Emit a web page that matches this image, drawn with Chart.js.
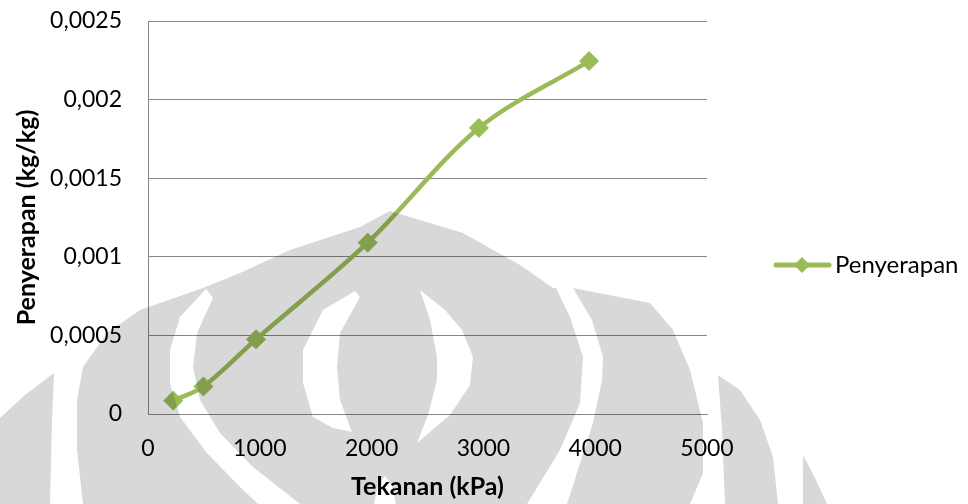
<!DOCTYPE html>
<html>
<head>
<meta charset="utf-8">
<script src="https://cdn.jsdelivr.net/npm/chart.js@4.4.1/dist/chart.umd.min.js"></script>
<style>
  html, body { margin: 0; padding: 0; background: #ffffff; }
  #wrap { width: 968px; height: 504px; position: relative; }
</style>
</head>
<body>
<div id="wrap"><canvas id="c" width="968" height="504"></canvas></div>
<script>
// Measured absorption versus pressure
const pressure = [226, 496, 966, 1965, 2960, 3945];
const absorption = [0.000085, 0.000175, 0.000475, 0.00109, 0.00182, 0.002245];

const xTicks = [0, 1000, 2000, 3000, 4000, 5000];
const xTickLabels = ['0', '1000', '2000', '3000', '4000', '5000'];
const yTicks = [0, 0.0005, 0.001, 0.0015, 0.002, 0.0025];
const yTickLabels = ['0', '0,0005', '0,001', '0,0015', '0,002', '0,0025'];

const seriesName = 'Penyerapan';
const xTitle = 'Tekanan (kPa)';
const yTitle = 'Penyerapan (kg/kg)';

const GREEN = '#9bbb59';
const AXIS = '#868686';
const FONT = 'Lato';

// Faint emblem printed behind the page, drawn once into its own layer
function buildEmblem() {
  const layer = document.createElement('canvas');
  layer.width = 968; layer.height = 504;
  const g = layer.getContext('2d');
  const poly = pts => {
    g.beginPath();
    g.moveTo(pts[0][0], pts[0][1]);
    for (let i = 1; i < pts.length; i++) g.lineTo(pts[i][0], pts[i][1]);
    g.closePath();
    g.fill();
  };
  g.fillStyle = '#d8d8d8';
  // main silhouette
  poly([[83,504],[77,450],[77,400],[83,367],[107,333],[140,310],[203,288],[240,273],[290,250],[360,227],
        [390,211],[463,233],[520,265],[553,288],[573,288],[650,303],[673,330],[690,370],[703,423],
        [703,473],[690,504]]);
  // outer lobes
  poly([[54,373],[52,420],[50,504],[0,504],[0,418],[25,395]]);
  poly([[718,375],[740,390],[760,420],[773,457],[778,504],[725,504],[722,430]]);
  poly([[803,455],[815,478],[827,504],[803,504]]);
  // cut the light bands
  g.globalCompositeOperation = 'destination-out';
  g.fillStyle = '#000';
  poly([[206,289],[180,317],[170,350],[170,383],[180,417],[207,453],[240,487],[258,504],
        [300,504],[253,467],[220,433],[200,400],[193,367],[197,333],[213,298]]);
  poly([[555,286],[570,317],[583,357],[580,403],[560,450],[527,504],
        [567,504],[593,423],[602,380],[603,357],[592,320],[573,288]]);
  poly([[355,291],[323,310],[303,350],[303,383],[313,417],[333,428],[352,432],
        [340,400],[337,367],[340,333],[360,297]]);
  poly([[420,290],[445,310],[462,330],[473,357],[470,385],[450,415],[417,443],
        [428,415],[437,380],[437,357],[430,320]]);
  poly([[374,504],[378,485],[385,476],[392,485],[396,504]]);
  return layer;
}

const emblem = buildEmblem();

const pageBackground = {
  id: 'pageBackground',
  beforeDraw(chart) {
    const ctx = chart.ctx;
    ctx.save();
    ctx.fillStyle = '#ffffff';
    ctx.fillRect(0, 0, chart.width, chart.height);
    ctx.restore();
  }
};

function diamond(ctx, x, y, r) {
  ctx.beginPath();
  ctx.moveTo(x, y - r);
  ctx.lineTo(x + r, y);
  ctx.lineTo(x, y + r);
  ctx.lineTo(x - r, y);
  ctx.closePath();
  ctx.fill();
}

const seriesKey = {
  id: 'seriesKey',
  afterDraw(chart) {
    const ctx = chart.ctx;
    const ds = chart.data.datasets[0];
    const y = 265;
    ctx.save();
    ctx.strokeStyle = ds.borderColor;
    ctx.lineWidth = 5;
    ctx.lineCap = 'round';
    ctx.beginPath();
    ctx.moveTo(776, y);
    ctx.lineTo(829, y);
    ctx.stroke();
    ctx.fillStyle = ds.pointBackgroundColor;
    diamond(ctx, 802, y, 8);
    ctx.fillStyle = '#000000';
    ctx.font = '24px ' + FONT;
    ctx.textBaseline = 'middle';
    ctx.textAlign = 'left';
    ctx.fillText(ds.label, 835, y);
    ctx.restore();
  }
};

const emblemOverlay = {
  id: 'emblemOverlay',
  afterDraw(chart) {
    const ctx = chart.ctx;
    ctx.save();
    ctx.globalCompositeOperation = 'multiply';
    ctx.drawImage(emblem, 0, 0);
    ctx.restore();
  }
};

function draw() {
  new Chart(document.getElementById('c'), {
    type: 'line',
    data: {
      datasets: [{
        label: seriesName,
        data: pressure.map((p, i) => ({ x: p, y: absorption[i] })),
        borderColor: GREEN,
        backgroundColor: GREEN,
        pointBackgroundColor: GREEN,
        pointBorderColor: GREEN,
        borderWidth: 4.5,
        tension: 0.33,
        pointStyle: 'rectRot',
        pointRadius: 9.5,
        pointBorderWidth: 1,
        fill: false
      }]
    },
    options: {
      responsive: false,
      animation: false,
      devicePixelRatio: 1,
      layout: { autoPadding: false, padding: { left: 0, right: 261, top: 21, bottom: 0 } },
      plugins: {
        legend: { display: false },
        tooltip: { enabled: false }
      },
      scales: {
        x: {
          type: 'linear',
          min: 0,
          max: 5000,
          afterBuildTicks: s => { s.ticks = xTicks.map(v => ({ value: v })); },
          afterFit: s => { s.height = 90; s.paddingLeft = 0; s.paddingRight = 0; },
          ticks: {
            callback: v => xTickLabels[xTicks.indexOf(v)],
            font: { family: FONT, size: 23 },
            color: '#000000',
            padding: 21,
            maxRotation: 0,
            autoSkip: false
          },
          grid: { display: false, drawTicks: false },
          border: { display: true, color: AXIS, width: 1 },
          title: {
            display: true,
            text: xTitle,
            font: { family: FONT, size: 25, weight: 'bold' },
            color: '#000000',
            padding: { top: 0, bottom: 2 }
          }
        },
        y: {
          type: 'linear',
          min: 0,
          max: 0.0025,
          afterBuildTicks: s => { s.ticks = yTicks.map(v => ({ value: v })); },
          afterFit: s => { s.width = 148; s.paddingTop = 0; s.paddingBottom = 0; },
          ticks: {
            callback: v => yTickLabels[yTicks.indexOf(v)],
            font: { family: FONT, size: 23 },
            color: '#000000',
            padding: 26
          },
          grid: { color: AXIS, lineWidth: 1, drawTicks: false },
          border: { display: true, color: AXIS, width: 1 },
          title: {
            display: true,
            text: yTitle,
            font: { family: FONT, size: 25, weight: 'bold' },
            color: '#000000',
            padding: { top: 12, bottom: 0 }
          }
        }
      }
    },
    plugins: [pageBackground, seriesKey, emblemOverlay]
  });
}

if (document.fonts && document.fonts.load) {
  Promise.all([
    document.fonts.load('23px ' + FONT),
    document.fonts.load('bold 25px ' + FONT)
  ]).then(draw, draw);
} else {
  draw();
}
</script>
</body>
</html>
